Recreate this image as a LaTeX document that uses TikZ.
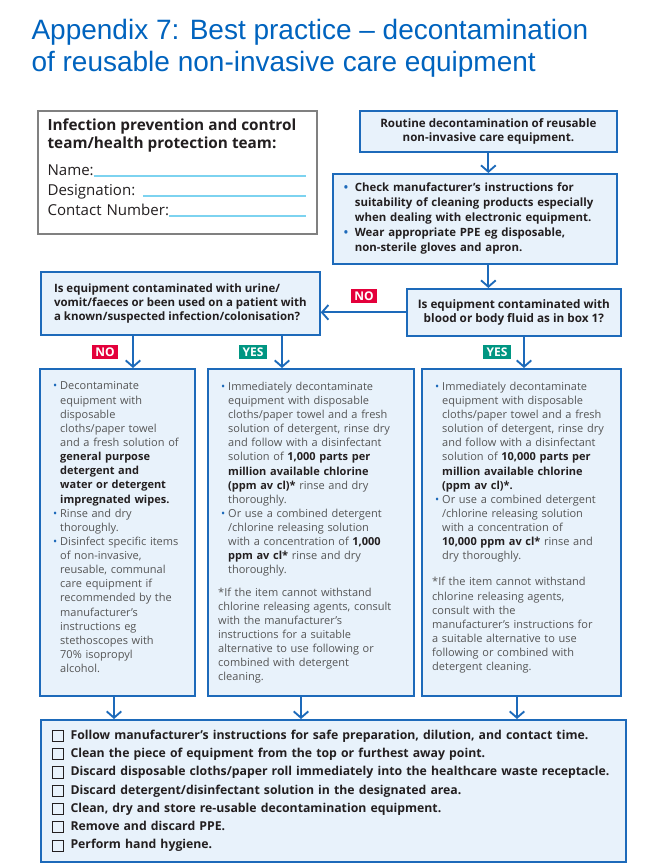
\documentclass[tikz,border=0pt]{standalone}
\usepackage{fontspec}
\setmainfont{Open Sans}
\newfontfamily\titlefont{Liberation Sans}
\usepackage{tikz}
\usetikzlibrary{arrows.meta, positioning}

\definecolor{titleblue}{RGB}{0,99,190}
\definecolor{boxblue}{RGB}{29,106,186}
\definecolor{boxfill}{RGB}{232,242,251}
\definecolor{framegrey}{RGB}{128,128,128}
\definecolor{formcyan}{RGB}{125,211,240}
\definecolor{nored}{RGB}{228,0,59}
\definecolor{yesteal}{RGB}{0,150,130}
\definecolor{ink}{RGB}{35,31,32}
\definecolor{bodygrey}{RGB}{85,85,85}

\newcommand{\bul}[1][5.25pt]{\hspace*{2.25pt}\makebox[#1][l]{\textcolor{boxblue}{\textbullet}}}
\newcommand{\cont}[1][7.5pt]{\hspace*{#1}}
\newcommand{\hl}[1]{\textcolor{ink}{\textbf{#1}}}
\newcommand{\formline}{{\color{formcyan}\leaders\hrule height 0.6pt depth 0.9pt\hfill}}
\newcommand{\tickbox}{\raisebox{-1.3pt}{\fboxsep=0pt\fboxrule=0.7pt\fbox{\rule{0pt}{7.6pt}\rule{7.6pt}{0pt}}}\hspace{5pt}}

\begin{document}
\begin{tikzpicture}[x=0.75pt, y=-0.75pt, thick]

	\tikzset{
		bluebox/.style={
				draw=boxblue, fill=boxfill, line width=1.3pt, inner sep=0pt, anchor=north west
			},
		greybox/.style={
				draw=framegrey, fill=white, line width=1.3pt, inner sep=0pt, anchor=north west
			},
		boldtext/.style={
				text=ink, font=\bfseries\fontsize{8.6}{10.4}\selectfont
			},
		coltext/.style={
				inner sep=0pt, align=left, text=bodygrey, font=\fontsize{8.25}{10.6}\selectfont
			},
		notag/.style={
				fill=nored, text=white, font=\bfseries\fontsize{9}{9}\selectfont, inner xsep=2.5pt, inner ysep=2.2pt
			},
		yestag/.style={
				notag, fill=yesteal
			},
		arr/.style={
				draw=boxblue, line width=1.4pt, -{Straight Barb[length=4.8pt, width=11pt]}
			},
	}
	\useasboundingbox (0,0) rectangle (657,866);

	\node[anchor=north west, inner sep=0pt, align=left, text=titleblue, font=\titlefont\fontsize{21}{24}\selectfont](title) at (31,19){Appendix 7: Best practice – decontamination\\of reusable non-invasive care equipment};

	% contact box
	\node[greybox, minimum width=279*0.75pt, minimum height=123*0.75pt](ipc) at (37,110){};
	\node[below right=6.5pt and 7.5pt of ipc.north west, inner sep=0pt, align=left, text=ink, font=\bfseries\fontsize{11.5}{13.5}\selectfont](ipchead){Infection prevention and control\\team/health protection team:};
	\node[below right=8.5pt and 0pt of ipchead.south west, inner sep=0pt, align=left, text width=258*0.75pt, text=ink, font=\fontsize{11.3}{15}\selectfont](ipcform){Name:\formline\\Designation: \formline\\Contact Number:\formline};

	% flow
	\node[bluebox, boldtext, minimum width=257*0.75pt, minimum height=41*0.75pt, align=center, font=\bfseries\fontsize{8.7}{10}\selectfont](routine) at (359,110){Routine decontamination of reusable\\non-invasive care equipment.};
	\node[bluebox, boldtext, minimum width=284*0.75pt, minimum height=90*0.75pt, text width=268*0.75pt, align=left, font=\bfseries\fontsize{8.55}{11.25}\selectfont](check) at (332,173){\bul[8.25pt]Check manufacturer's instructions for\\\cont[10.5pt]suitability of cleaning products especially\\\cont[10.5pt]when dealing with electronic equipment.\\\bul[8.25pt]Wear appropriate PPE eg disposable,\\\cont[10.5pt]non-sterile gloves and apron.};
	\node[bluebox, boldtext, minimum width=279*0.75pt, minimum height=63*0.75pt, align=left](lq) at (40,271){Is equipment contaminated with urine/\\vomit/faeces or been used on a patient with\\a known/suspected infection/colonisation?};
	\node[bluebox, boldtext, minimum width=214*0.75pt, minimum height=47*0.75pt, align=center, font=\bfseries\fontsize{8.8}{10.8}\selectfont](rq) at (406,288){Is equipment contaminated with\\blood or body fluid as in box 1?};

	\node[bluebox, minimum width=155*0.75pt, minimum height=327*0.75pt](colno) at (39,368){};
	\node[bluebox, minimum width=206*0.75pt, minimum height=327*0.75pt](colyes) at (207,368){};
	\node[bluebox, minimum width=199*0.75pt, minimum height=327*0.75pt](colblood) at (421,368){};

	\node[coltext, text width=150*0.75pt, below right=10pt and 8pt of colno.north west](colnotext){\bul Decontaminate\\\cont equipment with\\\cont disposable\\\cont cloths/paper towel\\\cont and a fresh solution of\\\cont\hl{general purpose}\\\cont\hl{detergent and}\\\cont\hl{water or detergent}\\\cont\hl{impregnated wipes.}\\\bul Rinse and dry\\\cont thoroughly.\\\bul Disinfect specific items\\\cont of non-invasive,\\\cont reusable, communal\\\cont care equipment if\\\cont recommended by the\\\cont manufacturer's\\\cont instructions eg\\\cont stethoscopes with\\\cont 70\% isopropyl\\\cont alcohol.};
	\node[coltext, text width=195*0.75pt, below right=10pt and 8pt of colyes.north west](colyestext){\bul Immediately decontaminate\\\cont equipment with disposable\\\cont cloths/paper towel and a fresh\\\cont solution of detergent, rinse dry\\\cont and follow with a disinfectant\\\cont solution of \hl{1,000 parts per}\\\cont\hl{million available chlorine}\\\cont\hl{(ppm av cl)*} rinse and dry\\\cont thoroughly.\\\bul Or use a combined detergent\\\cont/chlorine releasing solution\\\cont with a concentration of \hl{1,000}\\\cont\hl{ppm av cl*} rinse and dry\\\cont thoroughly.\\[6pt]*If the item cannot withstand\\chlorine releasing agents, consult\\with the manufacturer's\\instructions for a suitable\\alternative to use following or\\combined with detergent\\cleaning.};
	\node[coltext, text width=188*0.75pt, below right=10pt and 8pt of colblood.north west](colbloodtext){\bul Immediately decontaminate\\\cont equipment with disposable\\\cont cloths/paper towel and a fresh\\\cont solution of detergent, rinse dry\\\cont and follow with a disinfectant\\\cont solution of \hl{10,000 parts per}\\\cont\hl{million available chlorine}\\\cont\hl{(ppm av cl)*.}\\\bul Or use a combined detergent\\\cont/chlorine releasing solution\\\cont with a concentration of\\\cont\hl{10,000 ppm av cl*} rinse and\\\cont dry thoroughly.\\[9pt]*If the item cannot withstand\\chlorine releasing agents,\\consult with the\\manufacturer's instructions for\\a suitable alternative to use\\following or combined with\\detergent cleaning.};

	\node[bluebox, minimum width=585*0.75pt, minimum height=142*0.75pt, text width=563*0.75pt, align=left, text=ink, font=\bfseries\fontsize{9.2}{13.7}\selectfont](final) at (40,719){\tickbox Follow manufacturer's instructions for safe preparation, dilution, and contact time.\\\tickbox Clean the piece of equipment from the top or furthest away point.\\\tickbox Discard disposable cloths/paper roll immediately into the healthcare waste receptacle.\\\tickbox Discard detergent/disinfectant solution in the designated area.\\\tickbox Clean, dry and store re-usable decontamination equipment.\\\tickbox Remove and discard PPE.\\\tickbox Perform hand hygiene.};

	% tags
	\node[notag](notop) at (364,296){NO};
	\node[notag](nolow) at (105,352){NO};
	\node[yestag](yeslow) at (253,352){YES};
	\node[yestag](yesblood) at (497,352){YES};

	% arrows
	\coordinate (nodrop) at (133,0);
	\coordinate (yesdrop) at (282,0);
	\coordinate (blooddrop) at (524,0);
	\coordinate (outa) at (114,0);
	\coordinate (outb) at (301,0);
	\coordinate (outc) at (517,0);

	\draw[arr] (routine.south) -- (routine.south |- check.north);
	\draw[arr] (routine.south |- check.south) -- (routine.south |- rq.north);
	\draw[arr] (rq.west) -- (rq.west -| lq.east);
	\draw[arr] (lq.south -| nodrop) -- (colno.north -| nodrop);
	\draw[arr] (lq.south -| yesdrop) -- (colyes.north -| yesdrop);
	\draw[arr] (rq.south -| blooddrop) -- (colblood.north -| blooddrop);
	\draw[arr] (colno.south -| outa) -- (final.north -| outa);
	\draw[arr] (colyes.south -| outb) -- (final.north -| outb);
	\draw[arr] (colblood.south -| outc) -- (final.north -| outc);

\end{tikzpicture}
\end{document}
